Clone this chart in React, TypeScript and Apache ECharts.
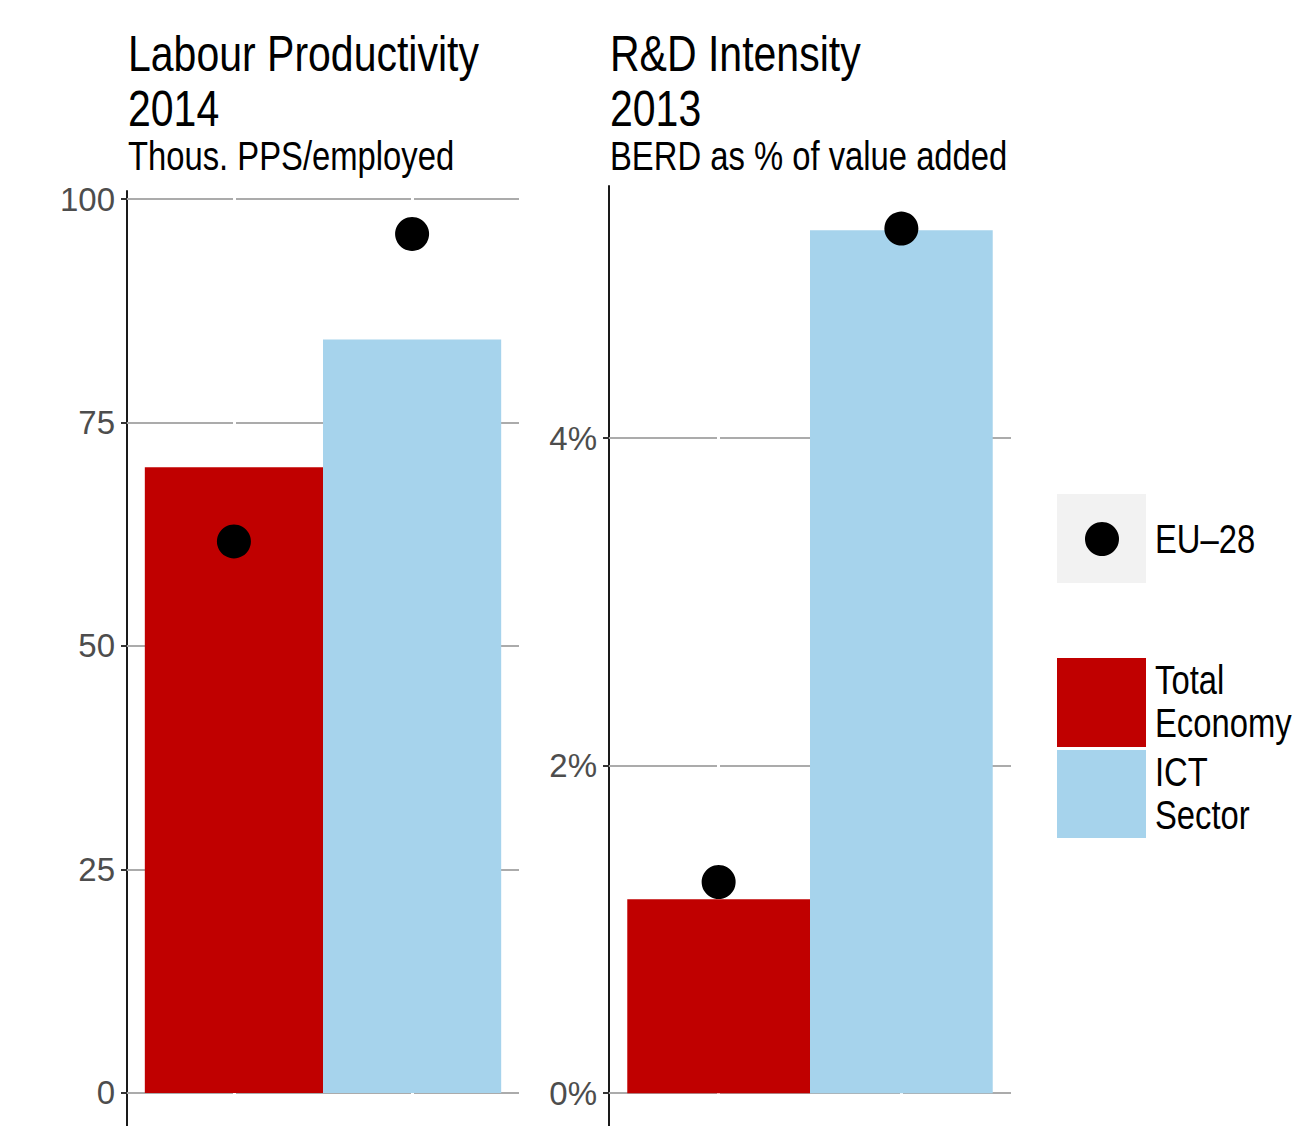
import React, { useEffect, useRef } from "react";
import * as echarts from "echarts";

const FONT = '"Liberation Sans", Arial, sans-serif';
const NARROW = 0.82;

const categories = ["Total Economy", "ICT Sector"];
const barColors = ["#C00000", "#A6D3EC"];
const productivityValues = [70.0, 84.3];
const productivityEU = [61.7, 96.1];
const productivityTicks = [0, 25, 50, 75, 100];
const productivityRange = [-3.7, 100.9];
const rdValues = [1.185, 5.27];
const rdEU = [1.29, 5.28];
const rdTicks = [0, 2, 4];
const rdRange = [-0.2, 5.54];

const grids = [
  { left: 127, top: 191, width: 392, bottom: 0 },
  { left: 609, top: 186, width: 402, bottom: 0 },
];

function panelSeries(idx: number, values: number[], eu: number[], ticks: number[]) {
  const barW = grids[idx].width / 2.2;
  return [
    {
      type: "scatter",
      xAxisIndex: idx,
      yAxisIndex: idx,
      data: [],
      z: 1,
      silent: true,
      markLine: {
        z: 1,
        silent: true,
        symbol: "none",
        label: { show: false },
        lineStyle: { color: "#ABABAB", width: 2, type: "solid" },
        data: ticks.map((t) => ({ yAxis: t })),
      },
    },
    {
      type: "scatter",
      xAxisIndex: idx,
      yAxisIndex: idx,
      data: [],
      z: 2,
      silent: true,
      markLine: {
        z: 2,
        silent: true,
        symbol: "none",
        label: { show: false },
        lineStyle: { color: "#FFFFFF", width: 3, type: "solid" },
        data: categories.map((_, i) => ({ xAxis: i + 1 })),
      },
    },
    {
      type: "bar",
      name: idx === 0 ? "Labour Productivity" : "R&D Intensity",
      xAxisIndex: idx,
      yAxisIndex: idx,
      barWidth: barW,
      z: 3,
      data: values.map((v, i) => ({ value: [i + 1, v], itemStyle: { color: barColors[i] } })),
    },
    {
      type: "scatter",
      name: "EU–28",
      xAxisIndex: idx,
      yAxisIndex: idx,
      symbolSize: 34,
      z: 4,
      itemStyle: { color: "#000000", opacity: 1 },
      data: eu.map((v, i) => [i + 1, v]),
    },
  ];
}

const narrowText = (text: string, x: number, y: number, size: number, extra: any = {}) => ({
  type: "text",
  x,
  y,
  scaleX: NARROW,
  style: { text, font: `${size}px ${FONT}`, fill: "#000", verticalAlign: "middle", align: "left", ...extra },
});

export default function App() {
  const ref = useRef<HTMLDivElement>(null);
  useEffect(() => {
    if (!ref.current) return;
    const chart = echarts.init(ref.current, null, { renderer: "svg" });
    const yAxisCommon = (ticks: number[], fmt: (v: number) => string) => ({
      type: "value",
      axisLine: { show: true, onZero: false, lineStyle: { color: "#1A1A1A", width: 2 } },
      axisTick: { show: true, length: 6, customValues: ticks, lineStyle: { color: "#333333", width: 2 } },
      axisLabel: {
        show: true,
        customValues: ticks,
        margin: 12,
        color: "#4D4D4D",
        fontSize: 33,
        fontFamily: FONT,
        formatter: (v: number) => fmt(v),
      },
      splitLine: { show: false },
    });
    const xAxisCommon = (gi: number) => ({
      type: "value",
      gridIndex: gi,
      min: 0.4,
      max: 2.6,
      show: false,
      splitLine: { show: false },
    });
    chart.setOption({
      animation: false,
      backgroundColor: "#FFFFFF",
      grid: grids.map((g) => ({ ...g, containLabel: false })),
      xAxis: [xAxisCommon(0), xAxisCommon(1)],
      yAxis: [
        {
          ...yAxisCommon(productivityTicks, (v) => String(v)),
          gridIndex: 0,
          min: productivityRange[0],
          max: productivityRange[1],
        },
        { ...yAxisCommon(rdTicks, (v) => `${v}%`), gridIndex: 1, min: rdRange[0], max: rdRange[1] },
      ],
      series: [
        ...panelSeries(0, productivityValues, productivityEU, productivityTicks),
        ...panelSeries(1, rdValues, rdEU, rdTicks),
      ],
      graphic: [
        narrowText("Labour Productivity", 128, 54, 50),
        narrowText("2014", 128, 109, 50),
        narrowText("Thous. PPS/employed", 128, 156, 40),
        narrowText("R&D Intensity", 610, 54, 50),
        narrowText("2013", 610, 109, 50),
        narrowText("BERD as % of value added", 610, 156, 40),
        { type: "rect", shape: { x: 1057, y: 494, width: 89, height: 89 }, style: { fill: "#F2F2F2" } },
        { type: "circle", shape: { cx: 1102, cy: 539, r: 17 }, style: { fill: "#000000" } },
        narrowText("EU–28", 1155, 539, 40),
        { type: "rect", shape: { x: 1057, y: 658, width: 89, height: 89 }, style: { fill: barColors[0] } },
        { type: "rect", shape: { x: 1057, y: 750, width: 89, height: 88 }, style: { fill: barColors[1] } },
        narrowText("Total\nEconomy", 1155, 702, 40, { lineHeight: 43 }),
        narrowText("ICT\nSector", 1155, 794, 40, { lineHeight: 43 }),
      ],
    });
    return () => chart.dispose();
  }, []);
  return (
    <div
      ref={ref}
      style={{ position: "fixed", left: 0, top: 0, width: 1293, height: 1126, background: "#fff" }}
    />
  );
}
